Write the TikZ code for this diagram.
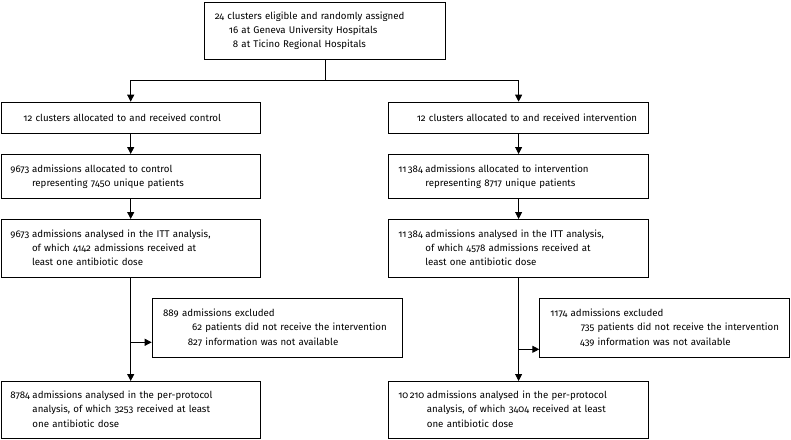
\documentclass[tikz,border=0pt]{standalone}
\usepackage{fontspec}
\setmainfont[Numbers=OldStyle]{Fira Sans}
\usetikzlibrary{arrows.meta}
\newcommand\nsp{\hskip\fontdimen2\font}
\begin{document}
\begin{tikzpicture}[x=1pt,y=-1pt,
  box/.style={draw, line width=0.9pt, anchor=north west, inner ysep=0pt, align=left,
    font=\fontsize{9.7}{14.3}\selectfont, text=black},
  arr/.style={line width=0.9pt, -{Triangle[length=7pt,width=7pt]}},
  ln/.style={line width=0.9pt}]
\useasboundingbox (0,0) rectangle (791,439);

% top
\node[box, minimum height=57.8pt, inner xsep=10pt, text width=220.7pt] (top) at (204.3,1.5)
 {\mbox{24 clusters eligible and randomly assigned}\\
  \makebox[23.5pt][r]{16} at Geneva University Hospitals\\
  \makebox[23.5pt][r]{8} at Ticino Regional Hospitals};

% level 2
\node[box, minimum height=31pt, inner xsep=22.5pt, text width=214.5pt] (L2) at (0.5,101.7)
 {\mbox{12 clusters allocated to and received control}};
\node[box, minimum height=31pt, inner xsep=28pt, text width=203.7pt] (R2) at (388.3,101.7)
 {\mbox{12 clusters allocated to and received intervention}};

% level 3
\node[box, minimum height=43.7pt, inner xsep=9.5pt, text width=240.5pt] (L3) at (0.5,154)
 {\begin{tabular}{@{}l@{\nsp}l@{}}9673 & admissions allocated to control\\ & representing 7450 unique patients\end{tabular}};
\node[box, minimum height=43.7pt, inner xsep=9.5pt, text width=240.7pt] (R3) at (388.3,154)
 {\begin{tabular}{@{}l@{\nsp}l@{}}11\,384 & admissions allocated to intervention\\ & representing 8717 unique patients\end{tabular}};

% level 4
\node[box, minimum height=58pt, inner xsep=9.5pt, text width=240.5pt] (L4) at (0.5,219)
 {\begin{tabular}{@{}l@{\nsp}l@{}}9673 & admissions analysed in the ITT analysis,\\ & of which 4142 admissions received at\\ & least one antibiotic dose\end{tabular}};
\node[box, minimum height=58pt, inner xsep=9.5pt, text width=240.7pt] (R4) at (388.3,219)
 {\begin{tabular}{@{}l@{\nsp}l@{}}11\,384 & admissions analysed in the ITT analysis,\\ & of which 4578 admissions received at\\ & least one antibiotic dose\end{tabular}};

% excluded
\node[box, minimum height=59.5pt, inner xsep=11pt, text width=228pt] (LEx) at (151.7,297.5)
 {889 admissions excluded\\
  \mbox{\makebox[39pt][r]{62} patients did not receive the intervention}\\
  \makebox[39pt][r]{827} information was not available};
\node[box, minimum height=59.5pt, inner xsep=10.7pt, text width=228.6pt] (REx) at (539.3,297.5)
 {1174 admissions excluded\\
  \mbox{\makebox[44pt][r]{735} patients did not receive the intervention}\\
  \makebox[44pt][r]{439} information was not available};

% bottom
\node[box, minimum height=57.3pt, inner xsep=9.5pt, text width=240.5pt] (LB) at (0.5,381)
 {\begin{tabular}{@{}l@{\nsp}l@{}}8784 & admissions analysed in the per-protocol\\ & analysis, of which 3253 received at least\\ & one antibiotic dose\end{tabular}};
\node[box, minimum height=57.3pt, inner xsep=9.5pt, text width=240.7pt] (RB) at (388.3,381)
 {\begin{tabular}{@{}l@{\nsp}l@{}}10\,210 & admissions analysed in the per-protocol\\ & analysis, of which 3404 received at least\\ & one antibiotic dose\end{tabular}};

% connectors
\coordinate (split) at (top.south |- 0,80.7);
\draw[ln] (top.south) -- (split);
\draw[arr] (split) -| (L2.north);
\draw[arr] (split) -| (R2.north);
\draw[arr] (L2.south) -- (L3.north);
\draw[arr] (R2.south) -- (R3.north);
\draw[arr] (L3.south) -- (L4.north);
\draw[arr] (R3.south) -- (R4.north);
\draw[arr] (L4.south) -- (LB.north);
\draw[arr] (R4.south) -- (RB.north);
\coordinate (Lbr) at (L4.south |- 0,342.3);
\coordinate (Rbr) at (R4.south |- 0,349.3);
\draw[arr] (Lbr) -- (Lbr -| LEx.west);
\draw[arr] (Rbr) -- (Rbr -| REx.west);
\end{tikzpicture}
\end{document}
